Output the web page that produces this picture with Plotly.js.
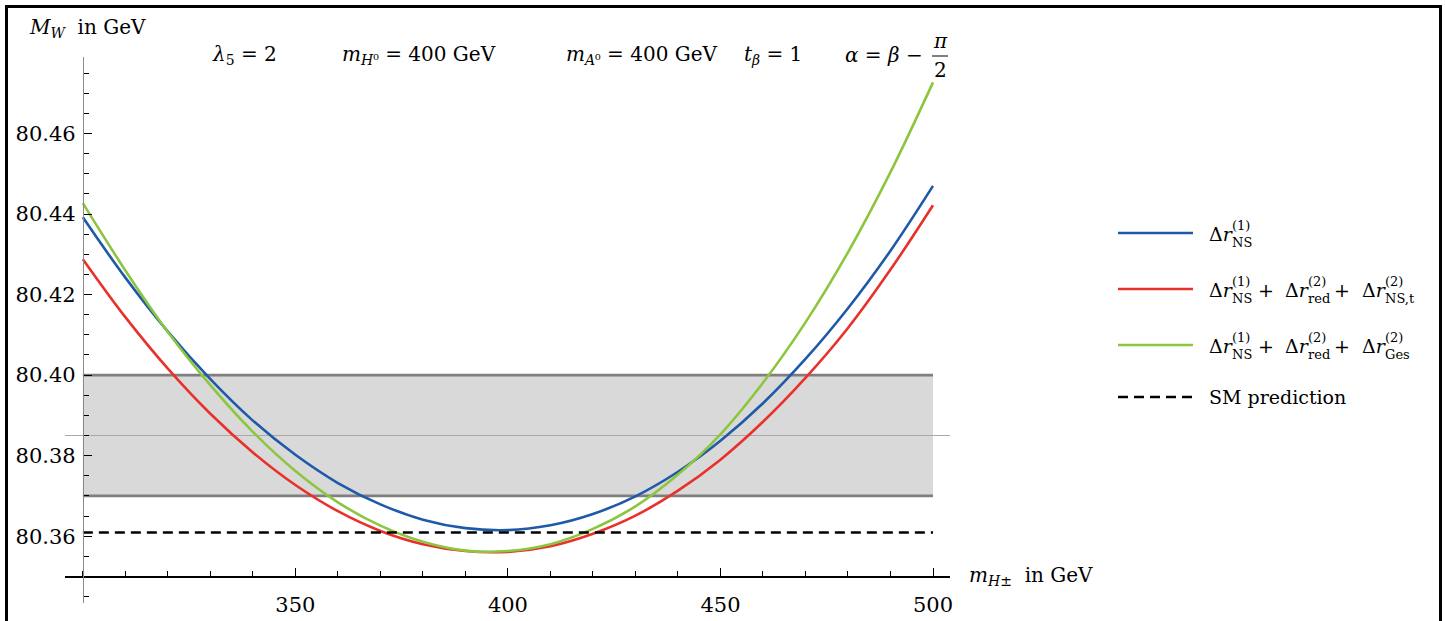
<!DOCTYPE html>
<html><head><meta charset="utf-8">
<script src="https://cdn.plot.ly/plotly-3.0.1.min.js"></script>
<style>
html,body{margin:0;padding:0;background:#fff;overflow:hidden;width:1445px;height:621px;}
#chart{position:absolute;left:0;top:0;width:1445px;height:621px;}
#frame{position:absolute;left:5px;top:5px;width:1437px;height:700px;border:3px solid #000;box-sizing:border-box;pointer-events:none;}
</style></head><body>
<div id="chart"></div><div id="frame"></div>
<script>
// ---- data ----
const mHpm = [300,310,320,330,340,350,360,370,380,390,400,410,420,430,440,450,460,470,480,490,500];
const mwNS = [80.4392,80.4242,80.4108,80.3990,80.3887,80.3802,80.3732,80.3679,80.3641,80.3620,80.3615,80.3627,80.3655,80.3699,80.3760,80.3837,80.3930,80.4040,80.4166,80.4309,80.4470];
const mwNSred = [80.4288,80.4144,80.4016,80.3904,80.3808,80.3727,80.3662,80.3613,80.3580,80.3563,80.3561,80.3575,80.3606,80.3651,80.3713,80.3790,80.3884,80.3993,80.4117,80.4262,80.4422];
const mwGes = [80.4427,80.4260,80.4107,80.3975,80.3859,80.3762,80.3684,80.3626,80.3586,80.3564,80.3563,80.3580,80.3618,80.3674,80.3753,80.3853,80.3981,80.4131,80.4305,80.4504,80.4727];
const bandLow = 80.37, bandHigh = 80.40, bandMid = 80.385;
const smPrediction = 80.3609;
const xTickVals = [350,400,450,500];
const xTickText = ['350','400','450','500'];
const yTickVals = [80.36,80.38,80.40,80.42,80.44,80.46];
const yTickText = ['80.36','80.38','80.40','80.42','80.44','80.46'];

// ---- layout geometry ----
const FONT = "DejaVu Serif";
const W = 1445, H = 621;
const ML = 65, MR = W - 950, MT = 57, MB = H - 603;
const PW = W - ML - MR, PH = H - MT - MB;
const xRange = [295.8, 504];
const yRange = [80.3434, 80.479];
const xAxisAt = 80.35, yAxisAt = 300;
const px = p => (p - ML) / PW;
const py = p => (H - MB - p) / PH;

const x0 = mHpm[0], x1 = mHpm[mHpm.length - 1];
const traces = [
  {x:[x0,x1,x1,x0,x0], y:[bandLow,bandLow,bandHigh,bandHigh,bandLow], type:'scatter', mode:'lines',
   fill:'toself', fillcolor:'#d9d9d9', line:{width:0, color:'rgba(0,0,0,0)'}, hoverinfo:'skip'},
  {x:xRange, y:[bandMid,bandMid], type:'scatter', mode:'lines', line:{color:'#a9a9a9', width:1}, hoverinfo:'skip'},
  {x:[x0,x1], y:[bandLow,bandLow], type:'scatter', mode:'lines', line:{color:'#7f7f7f', width:2.6}, hoverinfo:'skip'},
  {x:[x0,x1], y:[bandHigh,bandHigh], type:'scatter', mode:'lines', line:{color:'#7f7f7f', width:2.6}, hoverinfo:'skip'},
  {x:mHpm, y:mwNS, type:'scatter', mode:'lines', line:{color:'#1f5aa8', width:2.6, shape:'spline'}},
  {x:mHpm, y:mwNSred, type:'scatter', mode:'lines', line:{color:'#e8312a', width:2.6, shape:'spline'}},
  {x:mHpm, y:mwGes, type:'scatter', mode:'lines', line:{color:'#8cc63e', width:2.6, shape:'spline'}},
  {x:[x0,x1], y:[smPrediction,smPrediction], type:'scatter', mode:'lines', line:{color:'#000', width:2.6, dash:'10px,6px'}}
];

const annotations = [];
function ann(text, x, y, size, xa, ya) {
  annotations.push({text:text, xref:'paper', yref:'paper', x:px(x), y:py(y), xanchor:xa||'left', yanchor:ya||'middle',
    showarrow:false, font:{family:FONT, size:size, color:'#000'}});
}
// axis titles
ann('<i>M</i><sub><i>W</i></sub>  in GeV', 27, 28, 20);
ann('<i>m</i><sub><i>H</i>±</sub>  in GeV', 967, 576, 20);
// parameter line
ann('<i>λ</i><sub>5</sub> = 2', 244, 55, 20, 'center');
ann('<i>m</i><sub><i>H</i>⁰</sub> = 400 GeV', 419, 55, 20, 'center');
ann('<i>m</i><sub><i>A</i>⁰</sub> = 400 GeV', 642, 55, 20, 'center');
ann('<i>t</i><sub><i>β</i></sub> = 1', 773, 55, 20, 'center');
ann('<i>α</i> = <i>β</i> −', 925, 55, 20, 'right');
ann('<i>π</i>', 940, 41, 20, 'center');
ann('2', 940, 70, 20, 'center');

// manual legend
const BS = 19, SS = 13;
function dr(x, c, sup, sub) {
  ann('Δ<i>r</i>', x, c + 1, BS);
  ann(sup, x + 23, c - 8, SS);
  ann(sub, x + 23, c + 9, SS);
}
const rows = [233, 289, 345, 397];
dr(1207, rows[0], '(1)', 'NS');
[[rows[1], 'NS,t'], [rows[2], 'Ges']].forEach(([c, last]) => {
  dr(1207, c, '(1)', 'NS');
  ann('+', 1266, c + 1, BS, 'center');
  dr(1283, c, '(2)', 'red');
  ann('+', 1342, c + 1, BS, 'center');
  dr(1360, c, '(2)', last);
});
ann('SM prediction', 1207, rows[3], BS);

const legColors = ['#1f5aa8', '#e8312a', '#8cc63e', '#000'];
const shapes = rows.map((r, i) => ({type:'line', xref:'paper', yref:'paper', x0:px(1118), x1:px(1193), y0:py(r), y1:py(r),
  line:{color:legColors[i], width:2.6, dash: i === 3 ? '10px,6px' : 'solid'}}));
// fraction bar of pi/2
shapes.push({type:'line', xref:'paper', yref:'paper', x0:px(932), x1:px(948), y0:py(56), y1:py(56), line:{color:'#000', width:1}});

const layout = {
  width: W, height: H,
  margin: {l:ML, r:MR, t:MT, b:MB, pad:0},
  paper_bgcolor:'#fff', plot_bgcolor:'#fff',
  showlegend:false, hovermode:false,
  font:{family:FONT, color:'#000'},
  xaxis:{range:xRange, anchor:'free', position:(xAxisAt - yRange[0]) / (yRange[1] - yRange[0]),
    showline:true, linecolor:'#000', linewidth:1.2, showgrid:false, zeroline:false,
    ticks:'inside', ticklen:8, tickwidth:1, tickcolor:'#000',
    tickmode:'array', tickvals:xTickVals, ticktext:xTickText, tickfont:{family:FONT, size:21, color:'#000'},
    ticklabelstandoff:9,
    minor:{tickmode:'linear', tick0:300, dtick:10, ticks:'inside', ticklen:5, tickwidth:1, tickcolor:'#000', showgrid:false}},
  yaxis:{range:yRange, anchor:'free', position:(yAxisAt - xRange[0]) / (xRange[1] - xRange[0]),
    showline:true, linecolor:'#8a8a8a', linewidth:1.5, showgrid:false, zeroline:false,
    ticks:'inside', ticklen:8, tickwidth:1, tickcolor:'#000',
    tickmode:'array', tickvals:yTickVals, ticktext:yTickText, tickfont:{family:FONT, size:21, color:'#000'},
    ticklabelstandoff:3,
    minor:{tickmode:'linear', tick0:80.34, dtick:0.005, ticks:'inside', ticklen:5, tickwidth:1, tickcolor:'#000', showgrid:false}},
  annotations: annotations,
  shapes: shapes
};
Plotly.newPlot('chart', traces, layout, {displayModeBar:false, staticPlot:true});
</script>
</body></html>
